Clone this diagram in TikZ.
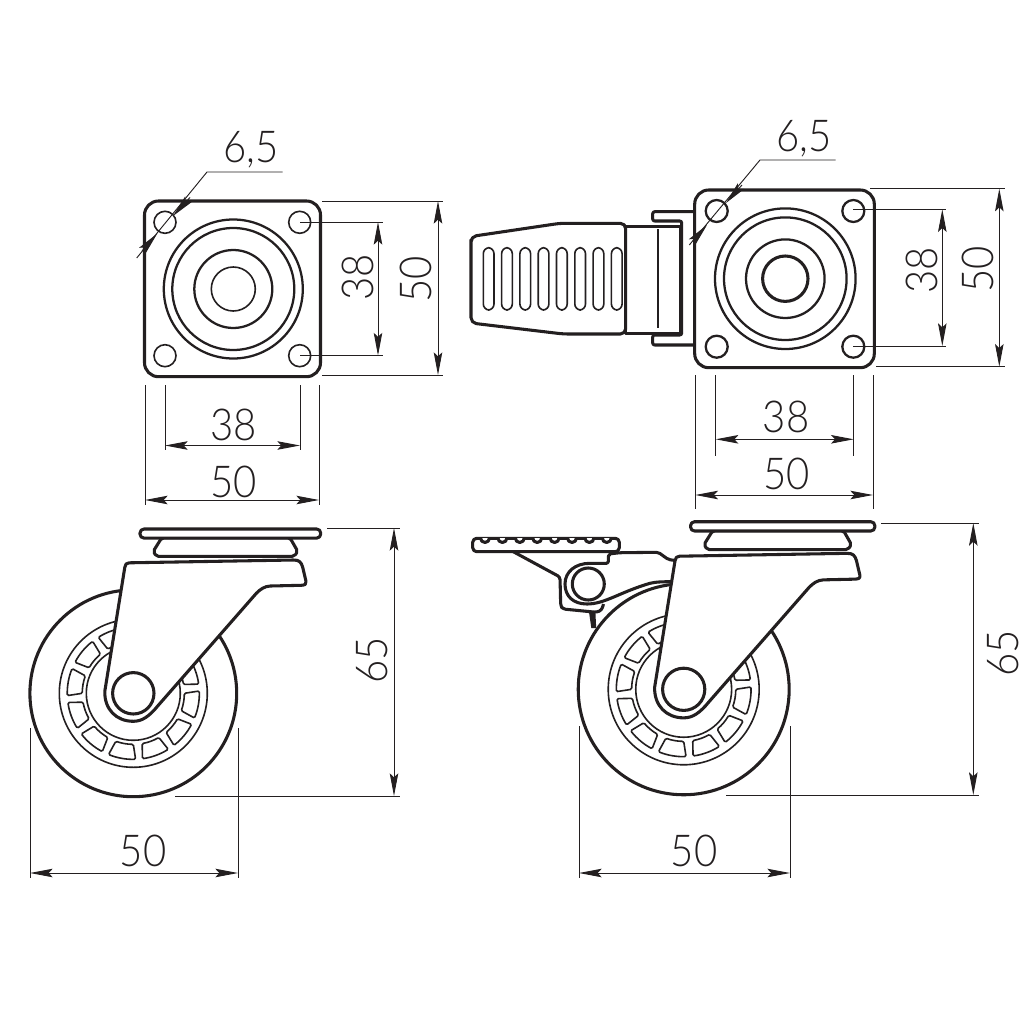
\documentclass[tikz,border=0pt]{standalone}
\usepackage{fontspec}
\setmainfont{Lato Light}[FakeStretch=0.91]
\usetikzlibrary{arrows.meta}
\definecolor{ink}{HTML}{231F20}
\tikzset{
  heavy/.style={draw=ink,line width=2.3pt,line join=round},
  medium/.style={draw=ink,line width=1.7pt},
  light/.style={draw=ink,line width=1.2pt},
  dimline/.style={draw=ink,line width=0.7pt},
  dimarrow/.style={dimline,{Stealth[length=17pt,width=6.4pt,inset=3pt]}-{Stealth[length=17pt,width=6.4pt,inset=3pt]}},
  tiparrow/.style={dimline,-{Stealth[length=17pt,width=6.4pt,inset=3pt]}},
  dimtext/.style={text=ink,font=\fontsize{33}{33}\selectfont,inner sep=0pt},
  vertical/.style={dimtext,rotate=90}
}
\newcommand{\caster}[3]{%
 \begin{scope}[shift={(#1,#2)},scale=#3]
  \draw[heavy,fill=white] (0,0) circle (103.4);
  \draw[light] (0,0) circle (74);
  \draw[light] (0,0) circle (47);
  \foreach \a in {100,70,40,10,-20,-50,-80,-110,-140,-170,160,130}{
    \draw[light,rounded corners=1pt] (\a-12:66) arc[start angle=\a-12,end angle=\a+12,radius=66]
      -- (\a+10:51) arc[start angle=\a+10,end angle=\a-10,radius=51] -- cycle;
  }
  \draw[heavy,fill=white,rounded corners=1.5pt] (28.4,-155.5) -- (20,-142) -- (23,-137) -- (161,-137) -- (164.4,-142) -- (156.7,-155.5) -- cycle;
  \draw[heavy,fill=white,rounded corners=3pt] (6.7,-164.3) rectangle (187.4,-155.2);
  \draw[heavy,fill=white] (-4,-130.5) -- (160,-133.3) .. controls (166,-133.5) and (168,-131) .. (169.4,-126)
     -- (172.7,-112) .. controls (173,-109) and (172,-108.3) .. (168,-108) -- (137,-107.3)
     .. controls (131,-107) and (127,-104) .. (123,-100) -- (25,12)
     .. controls (16,23) and (9,28) .. (0,28)
     .. controls (-17,28) and (-29,16) .. (-28.5,-2)
     -- (-8.5,-126) .. controls (-8,-129) and (-7,-130.5) .. (-4,-130.5) -- cycle;
  \draw[heavy,fill=white] (0,0) circle (20.7);
 \end{scope}}
\newcommand{\holes}[5]{%
  \foreach \hx/\hy in {#1/#3,#2/#3,#1/#4,#2/#4}{\draw[#5,fill=white] (\hx,\hy) circle (11);}}
\begin{document}
\begin{tikzpicture}[x=0.75pt,y=0.75pt,yscale=-1]
\useasboundingbox (0,0) rectangle (1024,1024);
% ---- top-left plan
\draw[heavy,rounded corners=10.5pt] (144.5,201) rectangle (320.5,376.7);
\holes{165}{299.7}{222.3}{355.7}{light}
\draw[medium] (233.3,289) circle (69.5);
\draw[medium] (233.3,289) circle (61);
\draw[medium] (233.3,289) circle (39);
\draw[light] (233.3,289) circle (22);
\coordinate (la) at (207,172); \coordinate (lb) at (282.5,172); \coordinate (lc) at (136.7,258);
\draw[dimline] (lb) -- (la) -- (lc);
\draw[tiparrow] (190,197.5) -- (173,216);
\draw[tiparrow] (142,251) -- (157.3,233.5);
\node[dimtext] (ta1) at (251,150) {6,5};
\draw[dimline] (322,201) -- (443,201);
\draw[dimline] (322,375) -- (443,375);
\draw[dimline] (300,222) -- (383,222);
\draw[dimline] (300,355.5) -- (383,355.5);
\draw[dimarrow] (438,201) -- (438,375);
\draw[dimarrow] (378,222) -- (378,355.5);
\node[vertical] (ta2) at (358,277) {38};
\node[vertical] (ta3) at (416,279) {50};
\draw[dimline] (145,385) -- (145,505);
\draw[dimline] (319,385) -- (319,505);
\draw[dimline] (165,385) -- (165,450);
\draw[dimline] (300,385) -- (300,450);
\draw[dimarrow] (165,445.5) -- (300,445.5);
\draw[dimarrow] (145,500) -- (319,500);
\node[dimtext] (ta4) at (233.5,425) {38};
\node[dimtext] (ta5) at (233.5,482) {50};
% ---- top-right plan
\draw[heavy,rounded corners=1.5pt,fill=white] (695,211.7) -- (652.7,211.7) -- (652.7,221) -- (681.7,221) -- (681.7,335) -- (652.7,335) -- (652.7,345) -- (695,345);
\draw[heavy,fill=white] (625.7,226.7) rectangle (681.7,333.5);
\draw[line width=1.9pt,draw=ink] (680,226.7) -- (680,333.5);
\draw[light,line width=1.4pt] (658,229.3) -- (658,328.3);
\draw[heavy,fill=white,rounded corners=4pt] (471,245) -- (471,236.5) -- (560,223.3) -- (625.7,223.3) -- (625.7,334) -- (563.3,334) -- (471,323) -- cycle;
\foreach \sx in {0,...,7}{
  \draw[light,rounded corners=4.5pt] (483.3+18.3*\sx,247.7) rectangle (494+18.3*\sx,310);
}
\draw[heavy,fill=white,rounded corners=10.5pt] (694.7,190) rectangle (874.3,367.7);
\holes{716.7}{853.3}{211}{346.7}{medium}
\draw[medium] (785.3,278.7) circle (70.3);
\draw[medium] (785.3,278.7) circle (61.3);
\draw[medium] (785.3,278.7) circle (39.3);
\draw[heavy] (785.3,278.7) circle (22.7);
\coordinate (ra) at (760,160); \coordinate (rb) at (835.7,160); \coordinate (rc) at (689.3,245);
\draw[dimline] (rb) -- (ra) -- (rc);
\draw[tiparrow] (742,185) -- (726,203);
\draw[tiparrow] (693,241) -- (707,225);
\node[dimtext] (tb1) at (804,138.5) {6,5};
\draw[dimline] (870,188.7) -- (1005,188.7);
\draw[dimline] (876,366.7) -- (1005,366.7);
\draw[dimline] (853.3,209.3) -- (946,209.3);
\draw[dimline] (853.3,346) -- (946,346);
\draw[dimarrow] (999.3,188.7) -- (999.3,366.7);
\draw[dimarrow] (942.3,209.3) -- (942.3,346);
\node[vertical] (tb2) at (921.7,270) {38};
\node[vertical] (tb3) at (978,269.5) {50};
\draw[dimline] (695.3,375) -- (695.3,509);
\draw[dimline] (873,375) -- (873,509);
\draw[dimline] (715.7,375) -- (715.7,456);
\draw[dimline] (853.7,375) -- (853.7,456);
\draw[dimarrow] (715.7,439.3) -- (853.7,439.3);
\draw[dimarrow] (695.3,495) -- (873,495);
\node[dimtext] (tb4) at (786,417) {38};
\node[dimtext] (tb5) at (786.7,474) {50};
% ---- bottom-left elevation
\caster{133.3}{693.3}{1}
\draw[dimline] (327,528) -- (400,528);
\draw[dimline] (175,796) -- (400,796);
\draw[dimarrow] (394,528) -- (394,796);
\node[vertical] (tc1) at (372,660) {65};
\draw[dimline] (30,728) -- (30,878);
\draw[dimline] (238,728) -- (238,878);
\draw[dimarrow] (30,873) -- (238,873);
\node[dimtext] (tc2) at (143,851) {50};
% ---- bottom-right elevation
\draw[heavy,fill=white,rounded corners=2pt] (513.3,551.7) -- (560,577) -- (560.7,606) -- (563,609) -- (596.7,612.3) -- (601.7,610) -- (603.5,604);
\draw[medium,fill=ink] (590.3,613) -- (592.3,627) -- (595,627) -- (594.3,613);
\draw[heavy,rounded corners=1.5pt] (676.7,560.7) -- (668.3,559.5) -- (658.3,552.3) -- (620,552.7) -- (608.5,554) -- (608.3,563.3) -- (590,563.3);
\draw[heavy] (590,563.3) .. controls (575,563.3) and (565,572) .. (565,584) .. controls (565,596) and (573,604) .. (587,604)
  .. controls (605,604) and (620,592) .. (650,583.3) .. controls (656,581.7) and (664,581.7) .. (676,581.7);
\draw[heavy,fill=white,rounded corners=3pt] (472.7,538.3) rectangle (619.3,551.7);
\foreach \bx in {0,...,7}{
  \draw[heavy,fill=white] (480.5+17.4*\bx,538) arc[start angle=180,end angle=0,radius=4.5];
}
\draw[heavy,fill=white] (588.3,584) circle (16);
\caster{683.7}{689.3}{1.02}
\draw[dimline] (881,523) -- (979,523);
\draw[dimline] (726,795) -- (979,795);
\draw[dimarrow] (973.3,523) -- (973.3,795);
\node[vertical] (td1) at (1003.5,653) {65};
\draw[dimline] (579,726) -- (579,878);
\draw[dimline] (790,726) -- (790,878);
\draw[dimarrow] (579,873) -- (790,873);
\node[dimtext] (td2) at (694,851) {50};
\end{tikzpicture}
\end{document}
